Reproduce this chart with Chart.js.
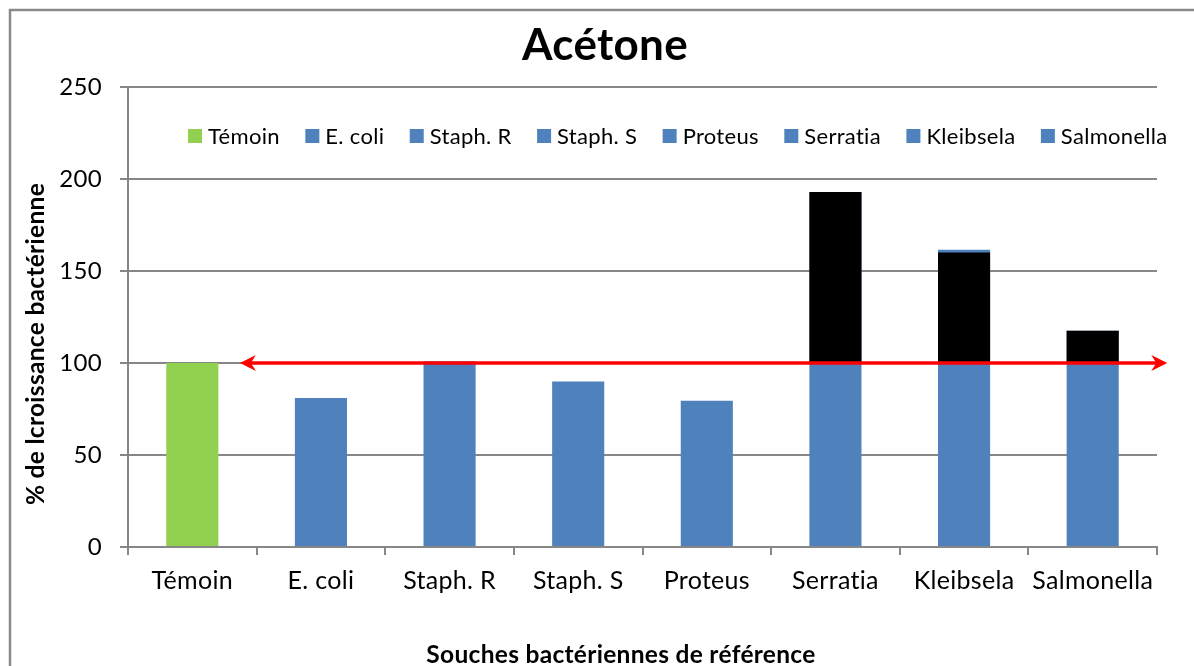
<!DOCTYPE html>
<html>
<head>
<meta charset="utf-8">
<script src="https://cdn.jsdelivr.net/npm/chart.js@4.4.0/dist/chart.umd.min.js"></script>
<style>
  html, body { margin: 0; padding: 0; background: #ffffff; overflow: hidden; }
  #wrap { width: 1194px; height: 666px; position: relative; }
</style>
</head>
<body>
<div id="wrap"><canvas id="c" width="1194" height="666"></canvas></div>
<script>
// ---- data ----
const categories = ['Témoin', 'E. coli', 'Staph. R', 'Staph. S', 'Proteus', 'Serratia', 'Kleibsela', 'Salmonella'];
const growthValues = [100, 81, 101, 90, 79.5, 193, 161.5, 117.5];
const excessTops = [null, null, null, null, null, 193, 160, 117.5];
const excessBase = 100;
const yTicks = [0, 50, 100, 150, 200, 250];
const referenceLevel = 100;
const arrowFrom = 0.37;   // category-index units
const arrowTo = 7.58;
const chartTitle = 'Acétone';
const yTitle = '% de lcroissance bactérienne';
const xTitle = 'Souches bactériennes de référence';

// ---- styles ----
const GREEN = '#92D050', BLUE = '#4F81BD', BLACK = '#000000', GRID = '#878787';
const barColors = categories.map((c, i) => i === 0 ? GREEN : BLUE);
const FONT = 'Lato';

const decor = {
  id: 'decor',
  beforeDraw(chart) {
    const ctx = chart.ctx;
    if ('letterSpacing' in ctx) ctx.letterSpacing = '0.3px';
    ctx.save();
    ctx.strokeStyle = '#8a8a8a';
    ctx.lineWidth = 2.5;
    ctx.strokeRect(10, 10, 2400, 2400);
    ctx.restore();
  },
  afterDatasetsDraw(chart) {
    const ctx = chart.ctx;
    const xs = chart.scales.x, ys = chart.scales.y;
    const y = ys.getPixelForValue(referenceLevel);
    const x1 = xs.getPixelForValue(arrowFrom);
    const x2 = xs.getPixelForValue(arrowTo);
    const hl = 16, hw = 8, notch = 11;
    ctx.save();
    ctx.strokeStyle = '#FF0000';
    ctx.fillStyle = '#FF0000';
    ctx.lineWidth = 3.5;
    ctx.beginPath();
    ctx.moveTo(x1 + notch, y);
    ctx.lineTo(x2 - notch, y);
    ctx.stroke();
    ctx.beginPath();
    ctx.moveTo(x1, y); ctx.lineTo(x1 + hl, y - hw); ctx.lineTo(x1 + notch, y); ctx.lineTo(x1 + hl, y + hw); ctx.closePath();
    ctx.fill();
    ctx.beginPath();
    ctx.moveTo(x2, y); ctx.lineTo(x2 - hl, y - hw); ctx.lineTo(x2 - notch, y); ctx.lineTo(x2 - hl, y + hw); ctx.closePath();
    ctx.fill();
    ctx.restore();
  },
  afterDraw(chart) {
    const ctx = chart.ctx;
    const area = chart.chartArea;
    ctx.save();
    ctx.fillStyle = '#000';
    // title
    ctx.font = 'bold 44px ' + FONT;
    ctx.textAlign = 'center';
    ctx.textBaseline = 'alphabetic';
    ctx.fillText(chartTitle, chart.width / 2 + 8, 60);
    // x title
    ctx.font = 'bold 24.5px ' + FONT;
    ctx.fillText(xTitle, 621, 663);
    // y title
    ctx.font = 'bold 24.5px ' + FONT;
    ctx.save();
    ctx.translate(44, 344);
    ctx.rotate(-Math.PI / 2);
    ctx.fillText(yTitle, 0, 0);
    ctx.restore();
    // legend inside plot area
    ctx.font = '22px ' + FONT;
    ctx.textAlign = 'left';
    ctx.textBaseline = 'middle';
    let x = area.left + 60;
    const cy = area.top + 49;
    const box = 14;
    categories.forEach((name, i) => {
      ctx.fillStyle = barColors[i];
      ctx.fillRect(x, cy - box / 2, box, box);
      ctx.fillStyle = '#000';
      ctx.fillText(name, x + box + 6, cy + 1);
      x += box + 6 + ctx.measureText(name).width + 25.5;
    });
    ctx.restore();
  }
};

new Chart(document.getElementById('c'), {
  type: 'bar',
  data: {
    labels: categories,
    datasets: [
      {
        label: 'Croissance',
        data: growthValues,
        backgroundColor: barColors,
        categoryPercentage: 1,
        barPercentage: 0.405,
        grouped: false,
        order: 2
      },
      {
        label: 'Excès',
        data: excessTops.map(v => v === null ? null : [excessBase, v]),
        backgroundColor: BLACK,
        categoryPercentage: 1,
        barPercentage: 0.405,
        grouped: false,
        order: 1
      }
    ]
  },
  options: {
    responsive: false,
    animation: false,
    layout: { padding: { left: 0, top: 87, right: 37, bottom: 0 } },
    plugins: {
      legend: { display: false },
      title: { display: false },
      tooltip: { enabled: false }
    },
    scales: {
      x: {
        grid: { offset: true, drawOnChartArea: false, drawTicks: true, tickLength: 8, color: GRID, lineWidth: 2 },
        border: { display: true, color: GRID, width: 2 },
        ticks: { font: { family: FONT, size: 25 }, color: '#000', padding: 11 },
        afterFit: s => { s.height = 119; }
      },
      y: {
        min: 0,
        max: 250,
        afterBuildTicks: s => { s.ticks = yTicks.map(v => ({ value: v })); },
        grid: { color: GRID, lineWidth: 2, tickLength: 8 },
        border: { display: true, color: GRID, width: 2 },
        ticks: { font: { family: FONT, size: 24 }, color: '#000', padding: 18 },
        afterFit: s => { s.width = 128; }
      }
    }
  },
  plugins: [decor]
});
</script>
</body>
</html>
